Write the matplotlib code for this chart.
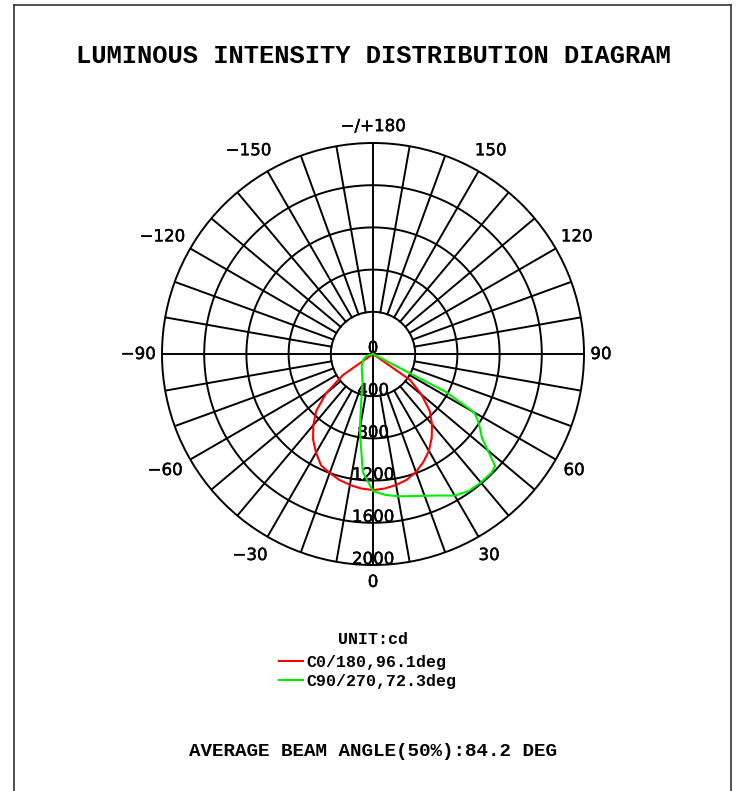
import numpy as np
import matplotlib
matplotlib.use("Agg")
import matplotlib.pyplot as plt
import matplotlib.patheffects as pe
from matplotlib.lines import Line2D

# Gamma angles (deg) and intensities (cd) for each C-plane
c0_angles = [-90, -65, -60, -55, -50, -45, -40, -35, -30, -25, -20, -15, -10, -5,
             0, 5, 10, 15, 20, 25, 30, 35, 40, 45, 50, 55, 60, 65, 90]
c0_cd = [0, 0, 0, 350, 580, 760, 880, 990, 1080, 1165, 1200, 1235, 1260, 1280,
         1290, 1280, 1260, 1235, 1190, 1130, 1060, 970, 870, 760, 600, 430, 0, 0, 0]

c90_angles = [-90, -75, -60, -45, -35, -25, -20, -15, -10, -5,
              0, 5, 10, 15, 20, 25, 30, 35, 40, 45, 47.5, 50, 52.5, 55, 57.5, 60,
              62.5, 65, 90]
c90_cd = [0, 60, 105, 150, 185, 240, 290, 420, 720, 1120,
          1300, 1340, 1370, 1395, 1430, 1480, 1550, 1585, 1590, 1590, 1570, 1420,
          1300, 1240, 1180, 1110, 780, 0, 0]

ring_values = [400, 800, 1200, 1600, 2000]
angle_ticks = [0, 30, 60, 90, 120, 150, 180, -150, -120, -90, -60, -30]
angle_labels = ["0", "30", "60", "90", "120", "150", "\u2212/+180",
                "\u2212150", "\u2212120", "\u221290", "\u221260", "\u221230"]

series_labels = ["C0/180,96.1deg", "C90/270,72.3deg"]
series_colors = ["#ff0000", "#00ee00"]

title = "LUMINOUS INTENSITY DISTRIBUTION DIAGRAM"
unit_text = "UNIT:cd"
footer = "AVERAGE BEAM ANGLE(50%):84.2 DEG"

W, H = 737, 791
fig = plt.figure(figsize=(W / 100, H / 100), dpi=100)

# polar axes: centre (373, 354) px, outer radius 211 px
cx, cy, R = 373, 354, 211
ax = fig.add_axes([(cx - R) / W, (H - cy - R) / H, 2 * R / W, 2 * R / H],
                  projection="polar")
ax.set_theta_zero_location("S")
ax.set_theta_direction(1)
rmax = ring_values[-1]
ax.set_ylim(0, rmax)
ax.set_xticks([])
ax.set_yticks([])
ax.grid(False)
ax.spines["polar"].set_linewidth(1.4)

grid_kw = dict(color="black", lw=1.4, zorder=1)
t = np.linspace(0, 2 * np.pi, 361)
for rv in ring_values[:-1]:
    ax.plot(t, np.full_like(t, rv), **grid_kw)
for deg in range(0, 360, 10):
    r0 = 0 if deg % 90 == 0 else ring_values[0]
    ax.plot([np.radians(deg)] * 2, [r0, rmax], **grid_kw)

# slightly heavier label text
heavy = [pe.withStroke(linewidth=0.3, foreground="black")]

# angle labels around the outside; the minus sign hangs out to the left
for deg, lab in zip(angle_ticks, angle_labels):
    if deg % 90 == 0:
        rr = rmax * 1.08
    elif abs(deg) > 90:
        rr = rmax * 1.115
    else:
        rr = rmax * 1.1
    dx = -7 if (deg < 0) else 0
    ax.annotate(lab, xy=(np.radians(deg), rr), xytext=(dx, 0),
                textcoords="offset pixels", ha="center", va="center",
                fontsize=12, family="DejaVu Sans", annotation_clip=False,
                path_effects=heavy)

# intensity labels along the 0 line
for rv in [0] + ring_values:
    ax.annotate(str(rv), xy=(0, rv), xytext=(0, 6), textcoords="offset pixels",
                ha="center", va="center", fontsize=12, family="DejaVu Sans",
                zorder=3, annotation_clip=False, path_effects=heavy)

l1, = ax.plot(np.radians(c0_angles), c0_cd, color=series_colors[0], lw=1.5,
              zorder=4)
l2, = ax.plot(np.radians(c90_angles), c90_cd, color=series_colors[1], lw=1.5,
              zorder=4)

mono = "Liberation Mono"
fig.text(373 / W, 1 - 56 / H, title, ha="center", va="center",
         fontsize=18.4, family=mono, weight="bold")
fig.text(373 / W, 1 - 640 / H, unit_text, ha="center", va="center",
         fontsize=12, family=mono, weight="bold")

leg = fig.legend([l1, l2], series_labels, loc="upper center",
                 bbox_to_anchor=(368 / W, 1 - 647 / H), frameon=False,
                 prop=dict(family=mono, size=12, weight="bold"),
                 handlelength=1.45, handletextpad=0.2, labelspacing=0.2,
                 borderpad=0)

fig.text(373 / W, 1 - 751 / H, footer, ha="center", va="center",
         fontsize=13.9, family=mono, weight="bold")

# frame round the sheet (open at the bottom)
border = dict(color="#333333", lw=1.2, transform=fig.transFigure)
x0, x1, ytop = 13.5 / W, 730.5 / W, 1 - 4.5 / H
fig.add_artist(Line2D([x0, x0], [0, ytop], **border))
fig.add_artist(Line2D([x0, x1], [ytop, ytop], **border))
fig.add_artist(Line2D([x1, x1], [ytop, 0], **border))

fig.savefig("out.png", dpi=100)
